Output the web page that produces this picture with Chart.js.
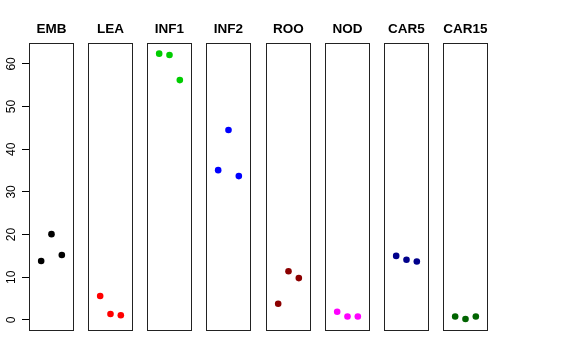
<!DOCTYPE html>
<html>
<head>
<meta charset="utf-8">
<script src="https://cdn.jsdelivr.net/npm/chart.js@4.4.1/dist/chart.umd.min.js"></script>
<style>
  body { margin: 0; background: #fff; }
  #wrap { position: relative; width: 576px; height: 360px; overflow: hidden; background: #fff; }
  #wrap canvas { position: absolute; top: 0; }
</style>
</head>
<body>
<div id="wrap"></div>
<script>
'use strict';

const panelNames = ['EMB', 'LEA', 'INF1', 'INF2', 'ROO', 'NOD', 'CAR5', 'CAR15'];
const embValues = [13.8, 20.1, 15.2];
const leaValues = [5.6, 1.4, 1.1];
const inf1Values = [62.4, 62.1, 56.2];
const inf2Values = [35.1, 44.5, 33.7];
const rooValues = [3.8, 11.4, 9.8];
const nodValues = [1.9, 0.8, 0.8];
const car5Values = [15.0, 14.1, 13.7];
const car15Values = [0.8, 0.2, 0.8];
const yTicks = [0, 10, 20, 30, 40, 50, 60];

const allValues = [embValues, leaValues, inf1Values, inf2Values, rooValues, nodValues, car5Values, car15Values];
const pointColors = ['#000000', '#FF0000', '#00CD00', '#0000FF', '#8B0000', '#FF00FF', '#00008B', '#006400'];

// where each panel's box starts (px)
const panelLefts = [29, 88, 147, 206, 266, 325, 384, 443];
const panelWidth = 45;
const axisWidth = 29;
const fontFamily = '"Liberation Sans", Arial, Helvetica, sans-serif';

// draws the box around the panel and its bold title
const panelPlugin = {
  id: 'panelBox',
  afterDraw(chart, args, opts) {
    let ctx = chart.ctx;
    let a = chart.chartArea;
    ctx.save();
    ctx.strokeStyle = '#222';
    ctx.lineWidth = 1;
    ctx.strokeRect(a.left + 0.5, a.top + 0.5, a.right - a.left - 1, a.bottom - a.top - 1);
    ctx.fillStyle = '#000';
    ctx.font = 'bold 13.5px ' + fontFamily;
    ctx.textAlign = 'center';
    ctx.textBaseline = 'middle';
    ctx.fillText(opts.title, (a.left + a.right) / 2, 29);
    ctx.restore();
  }
};

let wrap = document.getElementById('wrap');

for (let i = 0; i < panelNames.length; i++) {
  let canvas = document.createElement('canvas');
  let w = i === 0 ? axisWidth + panelWidth : panelWidth;
  canvas.width = w;
  canvas.height = 360;
  canvas.style.width = w + 'px';
  canvas.style.height = '360px';
  canvas.style.left = (i === 0 ? 0 : panelLefts[i]) + 'px';
  wrap.appendChild(canvas);

  let points = allValues[i].map(function(v, j) {
    return { x: j + 1, y: v };
  });

  new Chart(canvas, {
    type: 'scatter',
    data: {
      datasets: [{
        data: points,
        backgroundColor: pointColors[i],
        borderColor: pointColors[i],
        pointRadius: 3.3,
        pointHoverRadius: 3.3,
        borderWidth: 0
      }]
    },
    options: {
      responsive: false,
      animation: false,
      events: [],
      layout: { autoPadding: false, padding: { top: 43, bottom: 29, left: 0, right: 0 } },
      plugins: {
        legend: { display: false },
        tooltip: { enabled: false },
        panelBox: { title: panelNames[i] }
      },
      scales: {
        x: { type: 'linear', min: -0.18, max: 4.18, display: false },
        y: {
          min: -2.6,
          max: 64.9,
          display: i === 0,
          afterBuildTicks: function(scale) {
            scale.ticks = yTicks.map(function(v) { return { value: v }; });
          },
          afterFit: function(scale) {
            scale.width = i === 0 ? axisWidth : 0;
          },
          grid: { drawOnChartArea: false, drawTicks: true, tickLength: 7, color: '#000', lineWidth: 1 },
          border: { display: false },
          ticks: {
            minRotation: 90,
            maxRotation: 90,
            crossAlign: 'center',
            padding: 4,
            color: '#000',
            font: { family: fontFamily, size: 12 }
          }
        }
      }
    },
    plugins: [panelPlugin]
  });
}
</script>
</body>
</html>
